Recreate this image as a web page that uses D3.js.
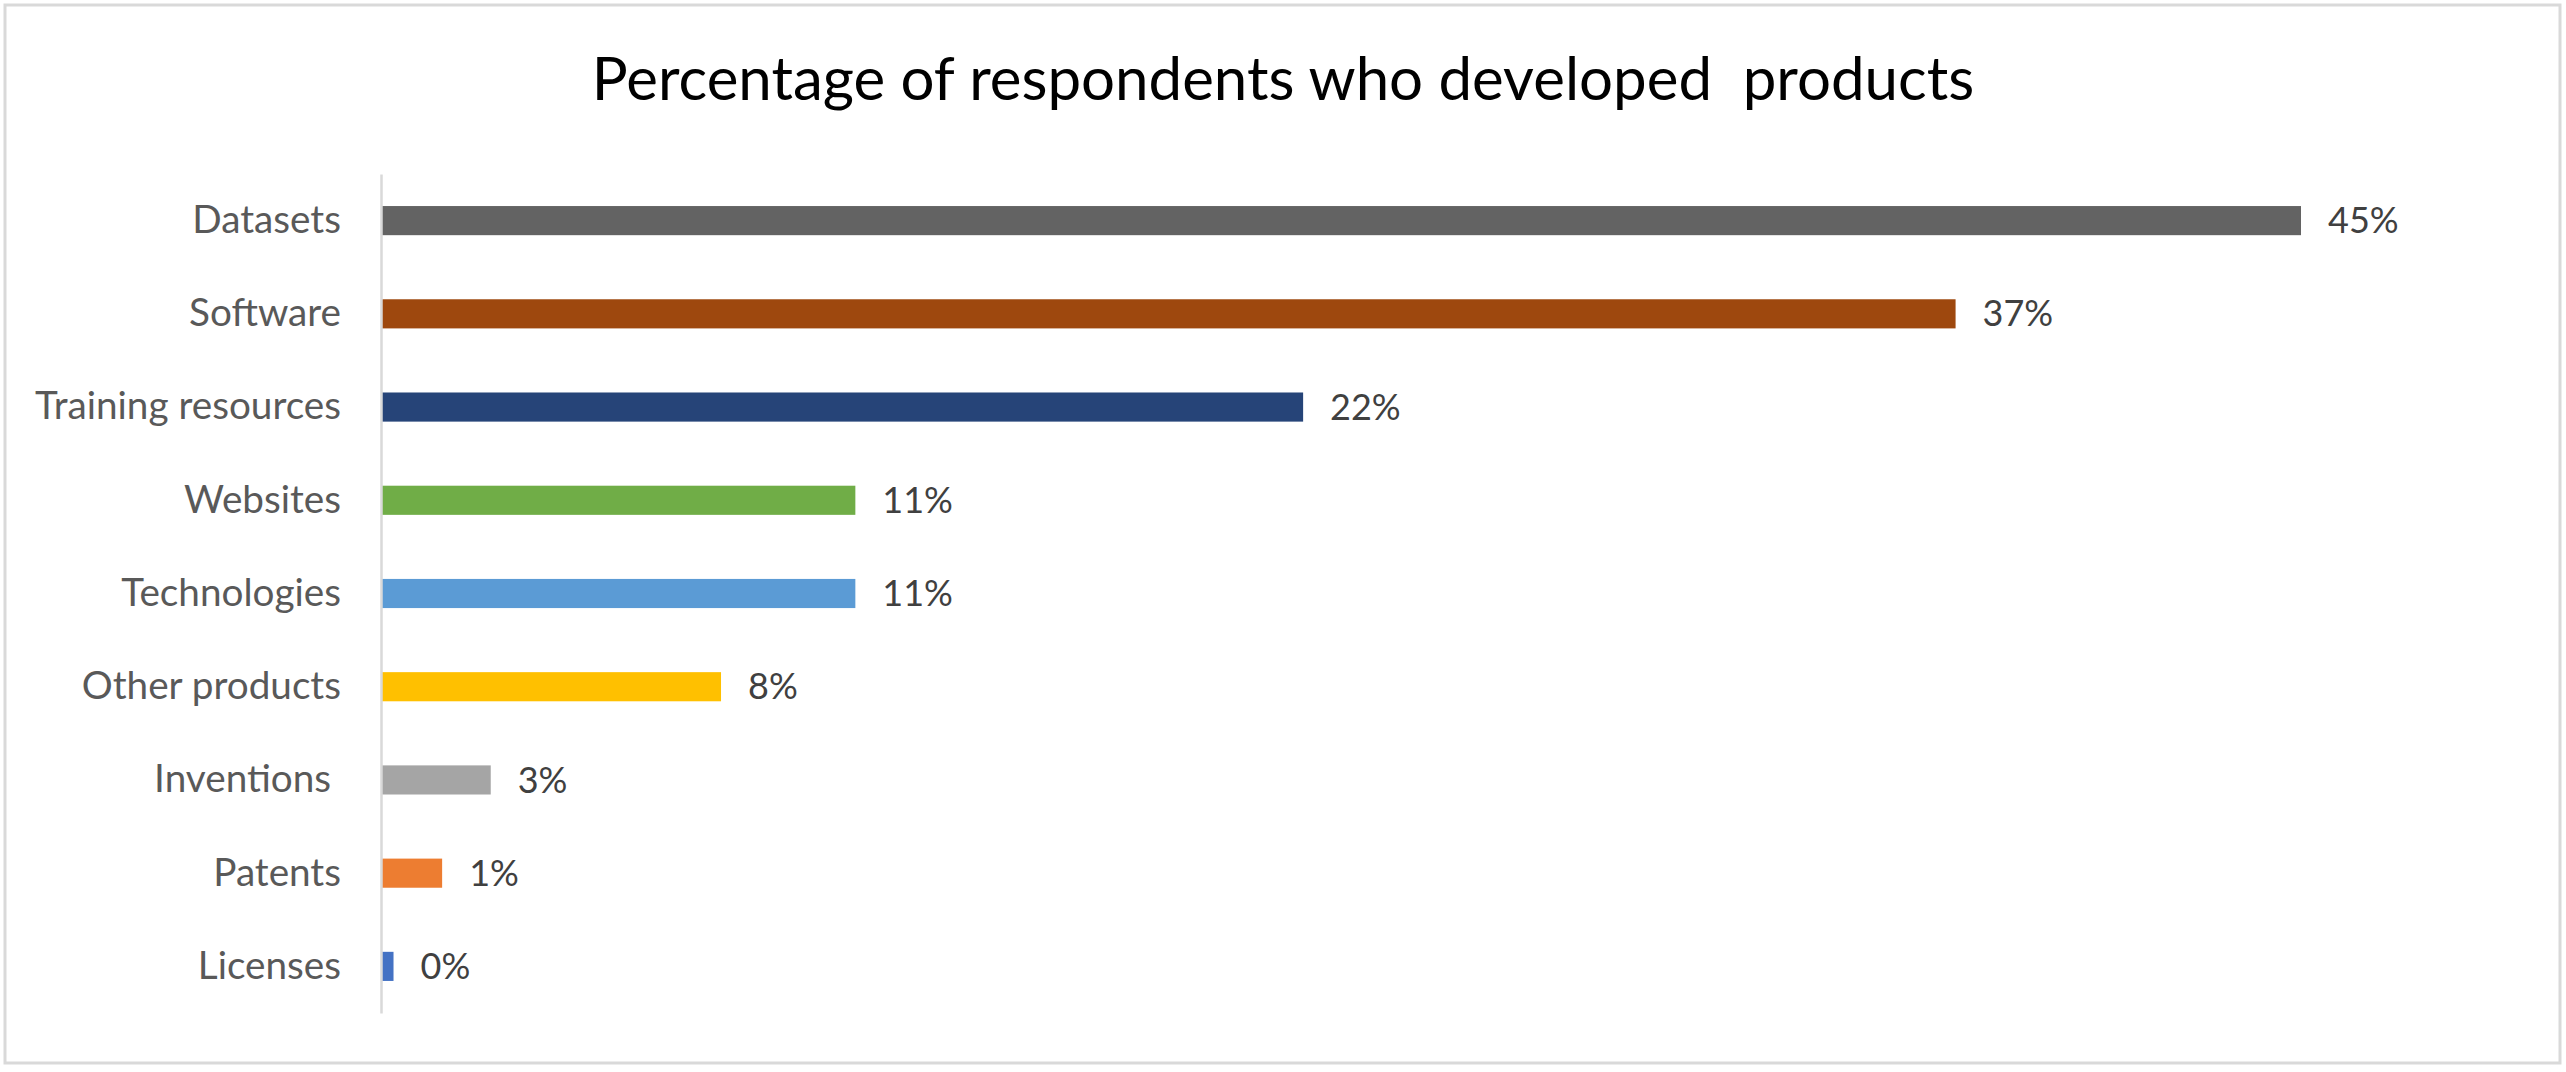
<!DOCTYPE html>
<html>
<head>
<meta charset="utf-8">
<script src="https://cdn.jsdelivr.net/npm/d3@7"></script>
<style>
  html, body { margin: 0; padding: 0; background: #ffffff; }
  svg { display: block; }
  svg text { white-space: pre; }
</style>
</head>
<body>
<div id="chart"></div>
<script>
// ---- Data ----
const titleText = "Percentage of respondents who developed  products";
const categories = ["Datasets", "Software", "Training resources", "Websites", "Technologies", "Other products", "Inventions ", "Patents", "Licenses"];
const values = [0.450, 0.369, 0.216, 0.111, 0.111, 0.0795, 0.0255, 0.0141, 0.0027];
const barColors = ["#636363", "#9E480E", "#264478", "#70AD47", "#5B9BD5", "#FFC000", "#A5A5A5", "#ED7D31", "#4472C4"];

// ---- Layout ----
const W = 2566, H = 1072;
const margin = { left: 382, top: 174, bottom: 1013 };
const xMax = 0.450;
const xEnd = 2301;

const svg = d3.select("#chart").append("svg")
  .attr("width", W).attr("height", H);

svg.append("rect")
  .attr("x", 5).attr("y", 5)
  .attr("width", W - 11).attr("height", H - 14)
  .attr("fill", "#ffffff")
  .attr("stroke", "#d9d9d9").attr("stroke-width", 3);

const x = d3.scaleLinear().domain([0, xMax]).range([margin.left, xEnd]);
const y = d3.scaleBand().domain(categories)
  .range([margin.top, margin.bottom])
  .paddingInner(0.6875).paddingOuter(0.34375);

const fontFamily = "Lato, 'Open Sans', sans-serif";

// Title
svg.append("text")
  .attr("x", W / 2).attr("y", 100)
  .attr("text-anchor", "middle")
  .attr("font-family", fontFamily)
  .attr("font-size", 60)
  .attr("fill", "#000000")
  .text(titleText);

const data = categories.map((c, i) => ({ c, v: values[i], color: barColors[i] }));

// Bars
svg.append("g").selectAll("rect")
  .data(data).join("rect")
  .attr("x", x(0))
  .attr("y", d => y(d.c))
  .attr("width", d => x(d.v) - x(0))
  .attr("height", y.bandwidth())
  .attr("fill", d => d.color);

// Y axis (category axis)
const yAxis = d3.axisLeft(y).tickSize(0).tickPadding(40);
const gy = svg.append("g")
  .attr("transform", `translate(${margin.left - 1},0)`)
  .call(yAxis);
gy.select(".domain").attr("stroke", "#d9d9d9").attr("stroke-width", 2.5);
gy.selectAll("text")
  .attr("font-family", fontFamily)
  .attr("font-size", 38.7)
  .attr("fill", "#595959");

// Value labels
const fmt = d3.format(".0%");
svg.append("g").selectAll("text")
  .data(data).join("text")
  .attr("x", d => x(d.v) + 27)
  .attr("y", d => y(d.c) + y.bandwidth() / 2)
  .attr("dy", "0.35em")
  .attr("font-family", fontFamily)
  .attr("font-size", 36)
  .attr("fill", "#404040")
  .text(d => fmt(d.v));
</script>
</body>
</html>
